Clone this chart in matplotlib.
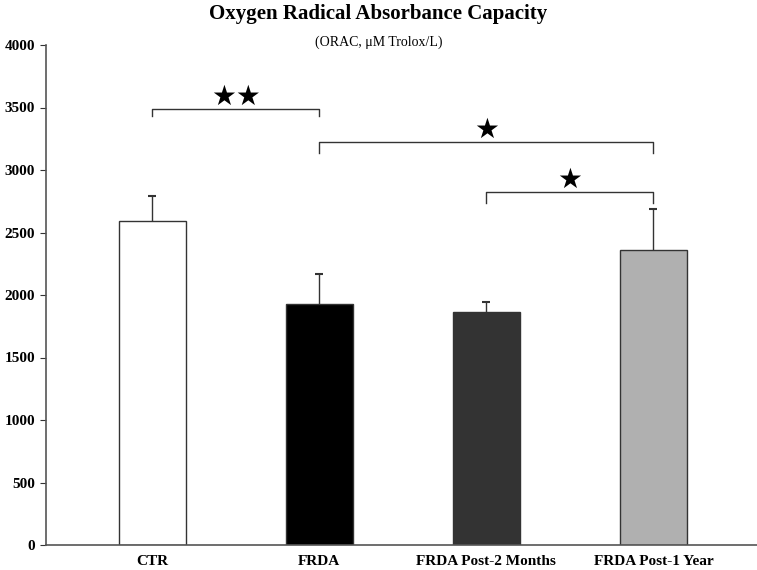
import matplotlib
matplotlib.use("Agg")
import matplotlib.pyplot as plt
import numpy as np

categories = ["CTR", "FRDA", "FRDA Post-2 Months", "FRDA Post-1 Year"]
means = [2590, 1925, 1865, 2360]
sds = [200, 240, 80, 330]
colors = ["#ffffff", "#000000", "#333333", "#b0b0b0"]
yticks = [0, 500, 1000, 1500, 2000, 2500, 3000, 3500, 4000]

# significance brackets: (i, j, bracket level, end level, label)
brackets = [(0, 1, 3490, 3430, "★★"), (1, 3, 3225, 3135, "★"), (2, 3, 2825, 2740, "★")]

plt.rcParams['font.family'] = ['Liberation Serif', 'DejaVu Serif']
fig = plt.figure(figsize=(7.57, 5.70), dpi=100)
ax = fig.add_axes([46/757, 25/570, 1 - 46/757, 500/570])

x = np.arange(len(categories))
ax.bar(x, means, width=0.4, color=colors, edgecolor="#333333", linewidth=1.0, zorder=2)
eb = ax.errorbar(x, means, yerr=[np.zeros(len(sds)), sds], fmt="none", ecolor="#333333",
                 elinewidth=1.0, capsize=3, capthick=1.5, zorder=1)
eb[1][0].set_visible(False)

for i, j, lvl, end, lab in brackets:
    ax.plot([x[i], x[i], x[j], x[j]], [end, lvl, lvl, end], color="#333333", lw=1.0, zorder=3)
    ax.text((x[i] + x[j]) / 2, lvl - 20, lab, ha="center", va="bottom", fontsize=20,
            family=["DejaVu Sans"], color="black")

ax.set_xlim(-0.635, 3.62)
ax.set_ylim(0, 4000)
ax.set_yticks(yticks)
ax.set_yticklabels([str(t) for t in yticks], fontweight="bold", fontsize=11)
ax.set_xticks(x)
ax.set_xticklabels(categories, fontweight="bold", fontsize=11)
ax.tick_params(axis="x", length=0, pad=7)
ax.tick_params(axis="y", length=4, color="#333333", pad=4)
for s in ["top", "right"]:
    ax.spines[s].set_visible(False)
for s in ["left", "bottom"]:
    ax.spines[s].set_color("#555555")
    ax.spines[s].set_linewidth(1.2)

fig.text(0.5, 0.975, "Oxygen Radical Absorbance Capacity", ha="center", va="center",
         fontsize=15, fontweight="bold")
fig.text(0.5, 0.926, "(ORAC, μM Trolox/L)", ha="center", va="center", fontsize=10)

fig.savefig("out.png", dpi=100)
